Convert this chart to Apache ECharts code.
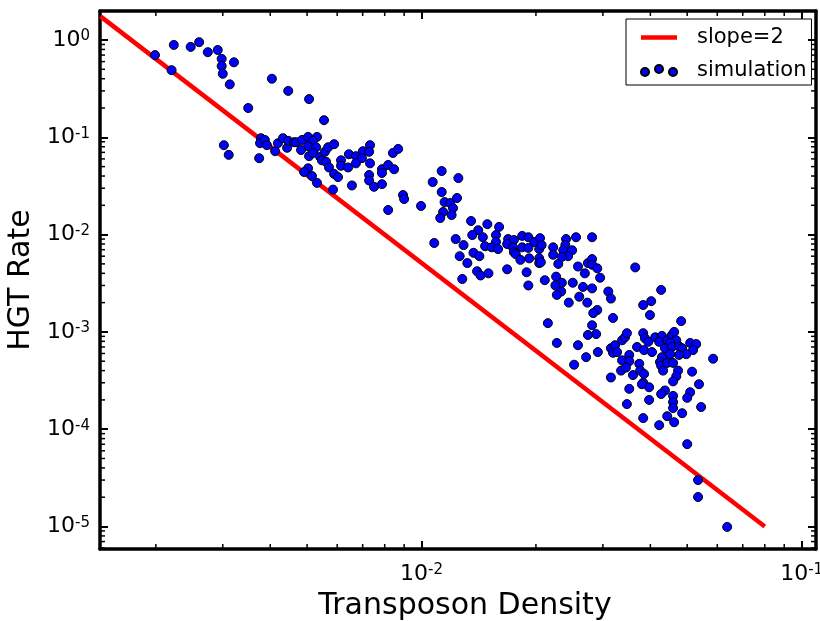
<!DOCTYPE html>
<html><head><meta charset="utf-8">
<script src="https://cdn.jsdelivr.net/npm/echarts@6/dist/echarts.min.js"></script>
<style>html,body{margin:0;padding:0;background:#fff}#c{width:820px;height:621px}</style>
</head><body><div id="c"></div>
<script>
const FONT = 'DejaVu Sans';

// simulation points [transposon density, HGT rate]
const simulationPoints = [
[0.00199,0.70],[0.00223,0.89],[0.00247,0.85],[0.00260,0.95],[0.00274,0.75],[0.00291,0.79],[0.00298,0.64],[0.00298,0.54],[0.00300,0.45],[0.00321,0.59],
[0.00313,0.35],[0.00220,0.49],[0.00404,0.40],[0.00446,0.30],[0.00350,0.20],[0.00302,0.083],[0.00311,0.066],[0.00374,0.061],[0.00378,0.098],[0.00376,0.087],
[0.00387,0.094],[0.00392,0.083],[0.00412,0.072],[0.00419,0.087],[0.00432,0.098],[0.00443,0.078],[0.00446,0.092],[0.00462,0.089],[0.00506,0.247],[0.00554,0.150],
[0.00468,0.089],[0.00485,0.094],[0.00503,0.101],[0.00531,0.101],[0.00518,0.092],[0.00503,0.081],[0.00482,0.074],[0.00528,0.079],[0.00506,0.064],[0.00518,0.069],
[0.00541,0.063],[0.00547,0.058],[0.00561,0.056],[0.00557,0.071],[0.00568,0.079],[0.00589,0.085],[0.00571,0.049],[0.00614,0.058],[0.00614,0.051],[0.00644,0.067],
[0.00672,0.064],[0.00701,0.072],[0.00732,0.083],[0.00728,0.071],[0.00697,0.061],[0.00672,0.054],[0.00641,0.049],[0.00732,0.054],[0.00503,0.048],[0.00491,0.044],
[0.00515,0.040],[0.00531,0.034],[0.00589,0.042],[0.00603,0.039],[0.00585,0.029],[0.00656,0.032],[0.00728,0.041],[0.00728,0.036],[0.00750,0.031],[0.00787,0.033],
[0.00787,0.047],[0.00787,0.043],[0.00817,0.052],[0.00847,0.047],[0.00841,0.069],[0.00868,0.076],[0.00894,0.0255],[0.00900,0.0232],[0.00817,0.0179],[0.00997,0.0197],
[0.0107,0.0347],[0.0113,0.045],[0.0125,0.0381],[0.0113,0.0274],[0.0115,0.0216],[0.0119,0.0211],[0.0124,0.0238],[0.0121,0.0187],[0.0114,0.0171],[0.0112,0.0148],
[0.0120,0.0159],[0.0108,0.0082],[0.0135,0.0138],[0.0141,0.0111],[0.0136,0.0099],[0.0123,0.0090],[0.0129,0.0078],[0.0137,0.0065],[0.0126,0.0060],[0.0142,0.0060],
[0.0132,0.0051],[0.0140,0.0042],[0.0128,0.0035],[0.0143,0.0038],[0.0150,0.0040],[0.0149,0.0128],[0.0160,0.0120],[0.0145,0.0094],[0.0157,0.0099],[0.0157,0.0084],
[0.0147,0.0076],[0.0153,0.0074],[0.0159,0.0071],[0.0169,0.0090],[0.0175,0.0088],[0.0168,0.0080],[0.0174,0.0074],[0.0184,0.0097],[0.0191,0.0094],[0.0184,0.0074],
[0.0191,0.0073],[0.0198,0.0084],[0.0205,0.0092],[0.0204,0.0071],[0.0207,0.0078],[0.0175,0.0066],[0.0177,0.0063],[0.0192,0.0057],[0.0182,0.0055],[0.0204,0.0057],
[0.0204,0.0051],[0.0206,0.0052],[0.0222,0.0074],[0.0222,0.0062],[0.0229,0.0050],[0.0168,0.0044],[0.0189,0.0041],[0.0191,0.0030],[0.0211,0.0034],[0.0215,0.00123],
[0.0227,0.00077],[0.0240,0.0090],[0.0255,0.0094],[0.0239,0.0078],[0.0236,0.0069],[0.0249,0.0069],[0.0243,0.0060],[0.0234,0.0059],[0.0281,0.0094],[0.0258,0.0047],
[0.0269,0.0040],[0.0274,0.0051],[0.0281,0.0056],[0.0281,0.0049],[0.0290,0.0045],[0.0295,0.0036],[0.0226,0.0037],[0.0234,0.0032],[0.0225,0.0030],[0.0233,0.0026],
[0.0227,0.0024],[0.0250,0.0032],[0.0266,0.0029],[0.0281,0.0028],[0.0260,0.0023],[0.0273,0.0020],[0.0244,0.0020],[0.0310,0.0026],[0.0315,0.0022],[0.0290,0.00168],
[0.0283,0.00156],[0.0319,0.00139],[0.0281,0.00117],[0.0288,0.00095],[0.0291,0.00062],[0.0271,0.00055],[0.0252,0.00046],[0.0258,0.00073],[0.0274,0.00093],[0.0365,0.0046],
[0.0427,0.0027],[0.0383,0.00189],[0.0402,0.00207],[0.0399,0.00149],[0.0482,0.00129],[0.0315,0.00068],[0.0319,0.00061],[0.0323,0.00073],[0.0337,0.00082],[0.0343,0.00088],
[0.0347,0.00097],[0.0327,0.00062],[0.0337,0.00051],[0.0352,0.00058],[0.0352,0.00050],[0.0335,0.00040],[0.0345,0.00043],[0.0315,0.00034],[0.0360,0.00036],[0.0369,0.00070],
[0.0383,0.00097],[0.0387,0.00086],[0.0395,0.00079],[0.0385,0.00065],[0.0404,0.00062],[0.0412,0.00088],[0.0429,0.00091],[0.0422,0.00079],[0.0443,0.00082],[0.0456,0.00093],
[0.0462,0.00100],[0.0468,0.00082],[0.0451,0.00077],[0.0437,0.00068],[0.0456,0.00070],[0.0476,0.00071],[0.0485,0.00068],[0.0509,0.00077],[0.0528,0.00075],[0.0518,0.00065],
[0.0497,0.00059],[0.0476,0.00058],[0.0451,0.00059],[0.0429,0.00055],[0.0424,0.00049],[0.0427,0.00045],[0.0432,0.00040],[0.0443,0.00048],[0.0459,0.00048],[0.0473,0.00040],
[0.0468,0.00035],[0.0459,0.00031],[0.0515,0.00039],[0.0374,0.00047],[0.0376,0.00040],[0.0385,0.00037],[0.0383,0.00030],[0.0397,0.00027],[0.0380,0.00029],[0.0437,0.00025],
[0.0427,0.00023],[0.0459,0.00022],[0.0459,0.00019],[0.0459,0.000165],[0.0485,0.000146],[0.0509,0.00024],[0.0500,0.00021],[0.0537,0.00029],[0.0544,0.000169],[0.0585,0.00053],
[0.0352,0.00026],[0.0397,0.00020],[0.0347,0.000181],[0.0383,0.000130],[0.0422,0.000110],[0.0443,0.000136],[0.0462,0.000118],[0.0500,0.0000702],[0.0534,0.0000300],[0.0534,0.0000201],
[0.0637,0.0000099]
];

// fitted reference line end points
const fitX = [0.00143, 0.08];
const fitY = [1.75, 0.00001];

// axis ranges and minor tick positions
const X_MIN = 0.001426, X_MAX = 0.1091;
const Y_MIN = 5.87e-6, Y_MAX = 1.987;
const xMinorTicks = [0.002,0.003,0.004,0.005,0.006,0.007,0.008,0.009,0.02,0.03,0.04,0.05,0.06,0.07,0.08,0.09];
const yMinorTicks = [6e-6,7e-6,8e-6,9e-6,2e-5,3e-5,4e-5,5e-5,6e-5,7e-5,8e-5,9e-5,2e-4,3e-4,4e-4,5e-4,6e-4,7e-4,8e-4,9e-4,
  0.002,0.003,0.004,0.005,0.006,0.007,0.008,0.009,0.02,0.03,0.04,0.05,0.06,0.07,0.08,0.09,0.2,0.3,0.4,0.5,0.6,0.7,0.8,0.9];

function powLabel(v) {
  const l = Math.log10(v);
  const e = Math.round(l);
  if (Math.abs(l - e) > 1e-6) return '';
  return '{b|10}{s|' + e + '}';
}
const labelRich = {
  b: { fontSize: 22, fontFamily: FONT, color: '#000', lineHeight: 22, padding: [7, 0, 0, 0], verticalAlign: 'bottom' },
  s: { fontSize: 15, fontFamily: FONT, color: '#000', lineHeight: 15, verticalAlign: 'top' }
};
const AXLINE = { show: true, lineStyle: { color: '#000', width: 3.5 } };
const MAJTICK = { show: true, inside: true, length: 8, lineStyle: { color: '#000', width: 2 } };

const chart = echarts.init(document.getElementById('c'), null, { renderer: 'canvas' });
chart.setOption({
  animation: false,
  backgroundColor: '#fff',
  grid: { left: 100, right: 4, top: 11, bottom: 72, containLabel: false, outerBoundsMode: 'none' },
  legend: {
    orient: 'vertical', left: 626, top: 19,
    borderColor: '#000', borderWidth: 1, borderRadius: 0,
    padding: [8, 5, 4, 14],
    itemWidth: 36, itemHeight: 14, itemGap: 12,
    formatter: n => '{t|' + n + '}',
    textStyle: { color: '#000', fontFamily: FONT, fontSize: 21,
      rich: { t: { fontFamily: FONT, fontSize: 21, color: '#000', padding: [0, 0, 0, 15], lineHeight: 24 } } },
    data: [
      { name: 'slope=2', icon: 'path://M0,0H36V4.5H0Z' },
      { name: 'simulation', icon: 'path://M0,8a4,4 0 1,0 8,0a4,4 0 1,0 -8,0Z M14,5a4,4 0 1,0 8,0a4,4 0 1,0 -8,0Z M28,8a4,4 0 1,0 8,0a4,4 0 1,0 -8,0Z' }
    ]
  },
  xAxis: [
    { type: 'log', logBase: 10, min: X_MIN, max: X_MAX, position: 'bottom',
      axisLine: AXLINE, axisTick: MAJTICK, splitLine: { show: false },
      axisLabel: { formatter: powLabel, rich: labelRich, margin: 14, showMinLabel: false, showMaxLabel: false },
      name: 'Transposon Density', nameLocation: 'middle', nameGap: 42,
      nameTextStyle: { fontFamily: FONT, fontSize: 30, color: '#000', padding: [0, 0, 0, 14] } },
    { type: 'log', logBase: 10, min: X_MIN, max: X_MAX, position: 'top',
      axisLine: AXLINE, axisTick: MAJTICK, splitLine: { show: false }, axisLabel: { show: false } }
  ],
  yAxis: [
    { type: 'log', logBase: 10, min: Y_MIN, max: Y_MAX, position: 'left',
      axisLine: AXLINE, axisTick: MAJTICK, splitLine: { show: false },
      axisLabel: { formatter: powLabel, rich: labelRich, margin: 10, showMinLabel: false, showMaxLabel: false },
      name: 'HGT Rate', nameLocation: 'middle', nameGap: 50,
      nameTextStyle: { fontFamily: FONT, fontSize: 30, color: '#000' } },
    { type: 'log', logBase: 10, min: Y_MIN, max: Y_MAX, position: 'right',
      axisLine: AXLINE, axisTick: MAJTICK, splitLine: { show: false }, axisLabel: { show: false } }
  ],
  series: [
    { name: 'slope=2', type: 'line', xAxisIndex: 0, yAxisIndex: 0,
      data: fitX.map((x, i) => [x, fitY[i]]), symbol: 'none', z: 2,
      color: '#ff0000', lineStyle: { color: '#ff0000', width: 4.5 }, itemStyle: { color: '#ff0000' } },
    { name: 'simulation', type: 'scatter', xAxisIndex: 0, yAxisIndex: 0,
      data: simulationPoints, symbol: 'circle', symbolSize: 9, z: 3,
      itemStyle: { color: '#0000ff', borderColor: '#000', borderWidth: 1, opacity: 1 } },
    { name: 'xminor', type: 'custom', xAxisIndex: 0, yAxisIndex: 0, silent: true, clip: false, z: 4,
      data: xMinorTicks.map(v => [v, Y_MIN]),
      renderItem: (params, api) => {
        const cs = params.coordSys;
        const p = api.coord([api.value(0), api.value(1)]);
        const yb = cs.y + cs.height, yt = cs.y;
        return { type: 'group', children: [
          { type: 'line', shape: { x1: p[0], y1: yb, x2: p[0], y2: yb - 5 }, style: { stroke: '#000', lineWidth: 1.5 } },
          { type: 'line', shape: { x1: p[0], y1: yt, x2: p[0], y2: yt + 5 }, style: { stroke: '#000', lineWidth: 1.5 } }
        ] };
      } },
    { name: 'yminor', type: 'custom', xAxisIndex: 0, yAxisIndex: 0, silent: true, clip: false, z: 4,
      data: yMinorTicks.map(v => [X_MIN, v]),
      renderItem: (params, api) => {
        const cs = params.coordSys;
        const p = api.coord([api.value(0), api.value(1)]);
        const xl = cs.x, xr = cs.x + cs.width;
        return { type: 'group', children: [
          { type: 'line', shape: { x1: xl, y1: p[1], x2: xl + 5, y2: p[1] }, style: { stroke: '#000', lineWidth: 1.5 } },
          { type: 'line', shape: { x1: xr, y1: p[1], x2: xr - 5, y2: p[1] }, style: { stroke: '#000', lineWidth: 1.5 } }
        ] };
      } }
  ]
});
</script>
</body></html>
